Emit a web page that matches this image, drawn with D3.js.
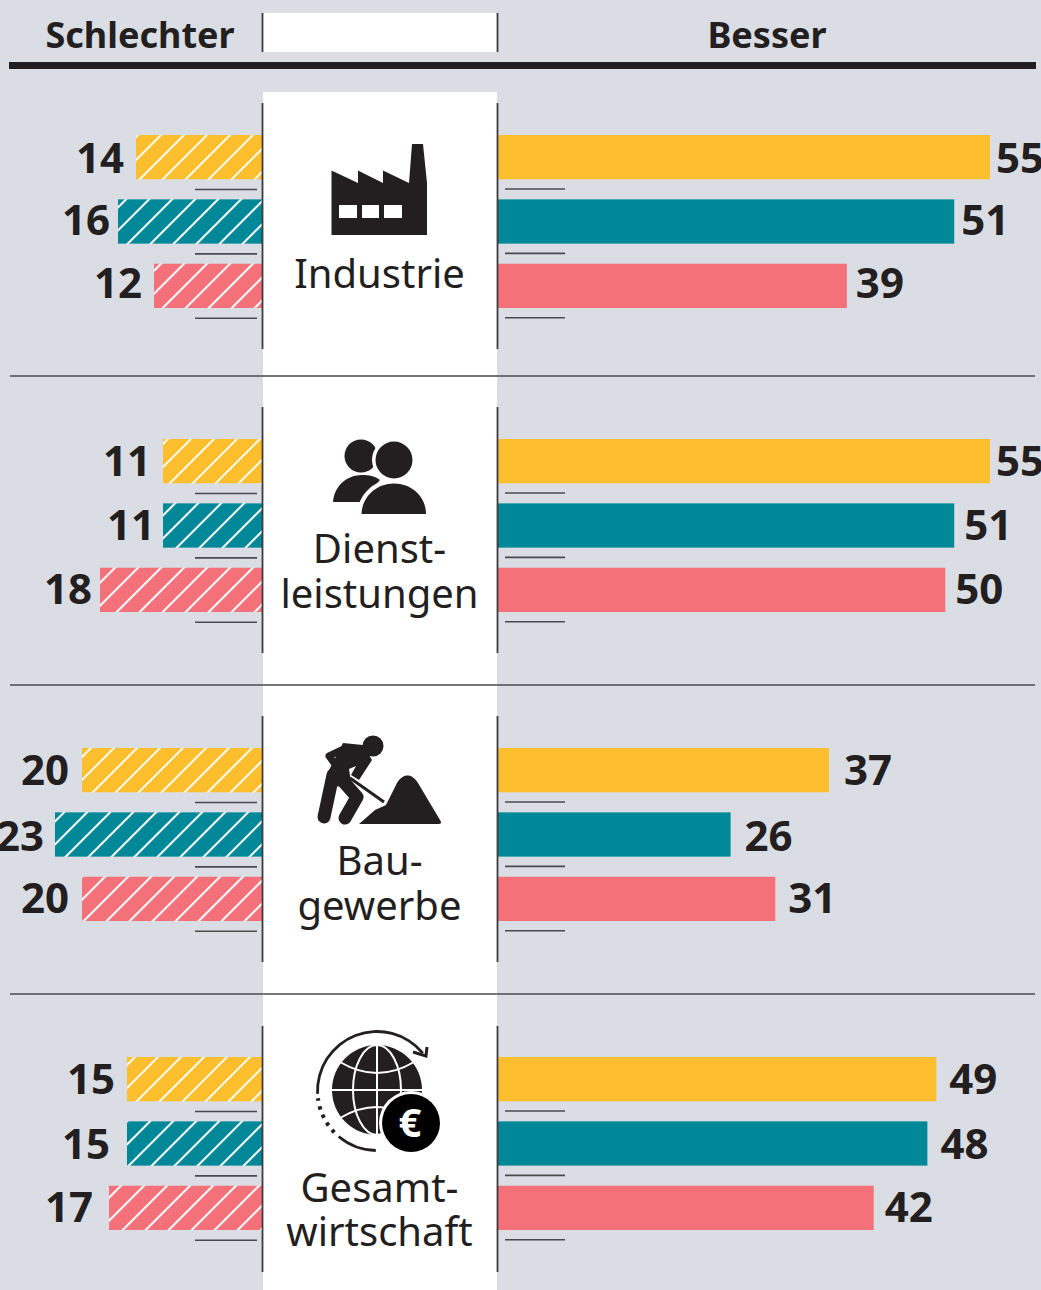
<!DOCTYPE html>
<html>
<head>
<meta charset="utf-8">
<script src="https://d3js.org/d3.v7.min.js"></script>
<style>
    html, body { margin: 0; padding: 0; background: #dadde3; overflow: hidden; }
    text { font-family: "Noto Sans", sans-serif; fill: #231f20; }
    .num { font-weight: 700; font-size: 42px; }
    .head { font-weight: 700; font-size: 36px; }
    .cat { font-weight: 400; font-size: 40px; }
</style>
</head>
<body>
<script>
    //chart values
    var sectors = ["Industrie", "Dienstleistungen", "Baugewerbe", "Gesamtwirtschaft"];
    var sectorLines = [["Industrie"], ["Dienst-", "leistungen"], ["Bau-", "gewerbe"], ["Gesamt-", "wirtschaft"]];
    var series = ["gelb", "tuerkis", "rot"];
    var worse = [[14, 16, 12], [11, 11, 18], [20, 23, 20], [15, 15, 17]];
    var better = [[55, 51, 39], [55, 51, 50], [37, 26, 31], [49, 48, 42]];

    var colors = d3.scaleOrdinal().domain(series).range(["#fdbf2d", "#008798", "#f4717a"]);

    //frame
    var width = 1041, height = 1290;
    var leftEdge = 262, rightEdge = 498;
    var panelTop = [135, 439, 748, 1057];
    var catBaseline = [[288], [563, 608], [875, 920], [1202, 1246]];
    var ruleY = [376, 685, 994];
    var lineSpans = [[103, 349], [407, 653], [716, 962], [1026, 1272]];

    //the labels sit a little unevenly in the original
    var worseGap = [[12, 8, 12], [12, 8, 8], [13, 11, 13], [12, 17, 16]];
    var betterGap = [[6, 7, 9], [6, 10, 10], [15, 14, 13], [13, 13, 11]];
    var numBaseline = [[38, 36, 34], [37, 37, 36], [37, 39, 36], [37, 38, 36]];
    var hatchPhase = [[2, 8, 7], [5, 12, 15], [9, 9, 0], [8, 0, 12]];

    var svg = d3.select("body").append("svg")
        .attr("width", width)
        .attr("height", height)
        .style("display", "block");

    var xWorse = d3.scaleLinear().domain([0, 20]).range([leftEdge, leftEdge - 180]);
    var xBetter = d3.scaleLinear().domain([0, 55]).range([rightEdge, rightEdge + 492]);
    var yRow = d3.scaleBand().domain(series).range([0, 173]).paddingInner(0.3125);

    var defs = svg.append("defs");

    //one hatch pattern per left bar, it starts at the bar's own corner
    function hatch(i, j, x, y) {
        var id = "hatch-" + i + "-" + j;
        var p = defs.append("pattern")
            .attr("id", id)
            .attr("patternUnits", "userSpaceOnUse")
            .attr("width", 16.26)
            .attr("height", 16.26)
            .attr("patternTransform", "translate(" + (x + hatchPhase[i][j] - 1.4) + "," + y + ") rotate(45)");
        p.append("rect").attr("width", 16.26).attr("height", 16.26).attr("fill", colors(series[j]));
        p.append("rect").attr("width", 2).attr("height", 16.26).attr("fill", "#fff");
        return "url(#" + id + ")";
    }

    //white column
    svg.append("rect").attr("x", 263).attr("y", 13).attr("width", 234).attr("height", 39).attr("fill", "#fff");
    svg.append("rect").attr("x", 263).attr("y", 92).attr("width", 234).attr("height", 1198).attr("fill", "#fff");

    //header
    svg.append("text").attr("class", "head").attr("x", 140).attr("y", 48).attr("text-anchor", "middle").text("Schlechter");
    svg.append("text").attr("class", "head").attr("x", 767).attr("y", 48).attr("text-anchor", "middle").text("Besser");
    svg.append("rect").attr("x", 9).attr("y", 62).attr("width", 1027).attr("height", 7).attr("fill", "#231f20");

    //rules between the panels
    svg.selectAll(".rule")
        .data(ruleY)
        .enter()
        .append("line")
        .attr("class", "rule")
        .attr("x1", 10).attr("x2", 1035)
        .attr("y1", function (d) { return d; })
        .attr("y2", function (d) { return d; })
        .attr("stroke", "#4a4a4d")
        .attr("stroke-width", 1.3);

    //panels
    sectors.forEach(function (sector, i) {
        var g = svg.append("g").attr("class", "panel").attr("transform", "translate(0," + panelTop[i] + ")");

        g.selectAll(".worse")
            .data(worse[i])
            .enter()
            .append("rect")
            .attr("class", "worse")
            .attr("x", function (d) { return xWorse(d); })
            .attr("y", function (d, j) { return yRow(series[j]); })
            .attr("width", function (d) { return leftEdge - xWorse(d); })
            .attr("height", yRow.bandwidth())
            .attr("fill", function (d, j) { return hatch(i, j, xWorse(d), yRow(series[j])); });

        g.selectAll(".better")
            .data(better[i])
            .enter()
            .append("rect")
            .attr("class", "better")
            .attr("x", rightEdge)
            .attr("y", function (d, j) { return yRow(series[j]); })
            .attr("width", function (d) { return xBetter(d) - rightEdge; })
            .attr("height", yRow.bandwidth())
            .attr("fill", function (d, j) { return colors(series[j]); });

        g.selectAll(".worseNum")
            .data(worse[i])
            .enter()
            .append("text")
            .attr("class", "num")
            .attr("text-anchor", "end")
            .attr("x", function (d, j) { return xWorse(d) - worseGap[i][j]; })
            .attr("y", function (d, j) { return yRow(series[j]) + numBaseline[i][j]; })
            .text(function (d) { return d; });

        g.selectAll(".betterNum")
            .data(better[i])
            .enter()
            .append("text")
            .attr("class", "num")
            .attr("x", function (d, j) { return xBetter(d) + betterGap[i][j]; })
            .attr("y", function (d, j) { return yRow(series[j]) + numBaseline[i][j]; })
            .text(function (d) { return d; });

        //short strokes below each bar
        series.forEach(function (s) {
            var y = yRow(s) + 54.5;
            g.append("line").attr("x1", 195).attr("x2", 257).attr("y1", y).attr("y2", y).attr("stroke", "#4a4a4d").attr("stroke-width", 1.6);
            g.append("line").attr("x1", 505).attr("x2", 565).attr("y1", y - 0.5).attr("y2", y - 0.5).attr("stroke", "#4a4a4d").attr("stroke-width", 1.6);
        });

        //sector name
        sectorLines[i].forEach(function (t, k) {
            svg.append("text")
                .attr("class", "cat")
                .attr("x", 379.5)
                .attr("y", catBaseline[i][k])
                .attr("text-anchor", "middle")
                .text(t);
        });
    });

    //vertical lines at the column edges
    [262.5, 497.5].forEach(function (x) {
        lineSpans.concat([[13, 52]]).forEach(function (s) {
            svg.append("line")
                .attr("x1", x).attr("x2", x)
                .attr("y1", s[0]).attr("y2", s[1])
                .attr("stroke", "#3c3c3f")
                .attr("stroke-width", 1.8);
        });
    });

    drawIcons();

    function drawIcons() {
        var dark = "#231f20";
        var icons = svg.append("g").attr("class", "icons");

        //factory
        icons.append("path").attr("fill", dark)
            .attr("d", "M331.5 170.5L358 183V170.5L383 183V170.5L409 183L412 144H423L427 183V235H331.5Z");
        icons.append("path").attr("fill", "#fff")
            .attr("d", "M339 205H357V218H339ZM362 205H379V218H362ZM384 205H402V218H384Z");

        //people
        icons.append("circle").attr("cx", 361).attr("cy", 456).attr("r", 16.5).attr("fill", dark);
        icons.append("path").attr("fill", dark)
            .attr("d", "M333 502C334 486 347 475 362 475C369 475 375 476 380 480L360 502Z");
        icons.append("circle").attr("cx", 394).attr("cy", 460).attr("r", 22).attr("fill", "#fff");
        icons.append("circle").attr("cx", 394).attr("cy", 460).attr("r", 18.5).attr("fill", dark);
        icons.append("path").attr("fill", "#fff")
            .attr("d", "M356 518C357 495 374 479 394 479C414 479 431 495 431 518Z");
        icons.append("path").attr("fill", dark)
            .attr("d", "M361.5 514C362 497 376 483.500 394 483.500C412 483.500 426 497 426 514Z");

        //worker
        var line = d3.line().curve(d3.curveLinear);
        icons.append("circle").attr("cx", 373).attr("cy", 746).attr("r", 10.5).attr("fill", dark);
        icons.append("path").attr("fill", dark)
            .attr("d", "M343 743L363 745L372 760L359 780L351 775L356 766L349 769L352 789L326 784L328 772Z");
        [
            { pts: [[346, 748], [329, 756], [334, 763]], w: 7 },
            { pts: [[333, 775], [324, 817]], w: 13 },
            { pts: [[342, 780], [357, 797], [345, 818]], w: 13 }
        ].forEach(function (p) {
            icons.append("path")
                .attr("d", line(p.pts))
                .attr("fill", "none")
                .attr("stroke", dark)
                .attr("stroke-width", p.w)
                .attr("stroke-linecap", "round")
                .attr("stroke-linejoin", "round");
        });
        icons.append("path").attr("d", "M350 778L384 802").attr("stroke", dark).attr("stroke-width", 3);
        icons.append("path").attr("fill", dark)
            .attr("d", "M359 824L375 810L386 805L397 783C403 773 412 773 418 783L440 820C442 823 441 824 438 824Z");

        //globe
        var cx = 377, cy = 1090, r = 45;
        icons.append("circle").attr("cx", cx).attr("cy", cy).attr("r", r).attr("fill", dark);
        var grid = icons.append("g").attr("fill", "none").attr("stroke", "#fff").attr("stroke-width", 2);
        grid.append("ellipse").attr("cx", cx).attr("cy", cy).attr("rx", 24).attr("ry", r);
        grid.append("line").attr("x1", cx).attr("x2", cx).attr("y1", cy - r).attr("y2", cy + r);
        grid.append("line").attr("x1", cx - r).attr("x2", cx + r).attr("y1", cy).attr("y2", cy);
        grid.append("path").attr("d", "M340 1062Q377 1084 414 1062");
        grid.append("path").attr("d", "M340 1118Q377 1096 414 1118");

        //arc round the globe, solid at the top, dotted lower left, solid below
        var ringR = 59.5;
        var rim = d3.arc().innerRadius(ringR - 1.4).outerRadius(ringR + 1.4);
        var ring = icons.append("g").attr("transform", "translate(377,1091)");
        ring.append("path").attr("fill", dark).attr("d", rim({ startAngle: -1.62, endAngle: 0.88 }));
        ring.append("path").attr("fill", dark).attr("d", rim({ startAngle: Math.PI + 0.02, endAngle: Math.PI + 0.7 }));
        var dots = d3.lineRadial().curve(d3.curveBasis);
        ring.append("path")
            .attr("d", dots(d3.range(Math.PI + 0.8, Math.PI + 1.46, 0.05).map(function (a) { return [a, ringR]; })))
            .attr("fill", "none")
            .attr("stroke", dark)
            .attr("stroke-width", 4)
            .attr("stroke-dasharray", "3.5 5.5");
        icons.append("path").attr("fill", "none").attr("stroke", dark).attr("stroke-width", 3)
            .attr("d", "M413 1052L426 1056L427 1047");

        //euro badge
        icons.append("circle").attr("cx", 411).attr("cy", 1123).attr("r", 32).attr("fill", "#fff");
        icons.append("circle").attr("cx", 411).attr("cy", 1123).attr("r", 29).attr("fill", "#000");
        icons.append("text")
            .attr("x", 410).attr("y", 1137)
            .attr("text-anchor", "middle")
            .style("fill", "#fff")
            .style("font-weight", 700)
            .style("font-size", "40px")
            .text("€");
    }
</script>
</body>
</html>
